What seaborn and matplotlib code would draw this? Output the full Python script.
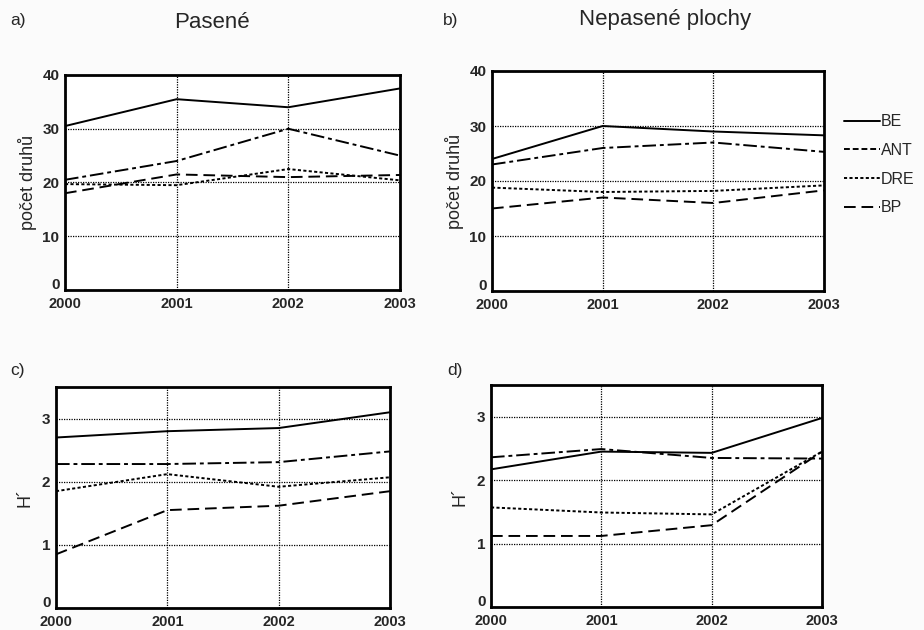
import matplotlib
matplotlib.use("Agg")
import matplotlib.pyplot as plt
import matplotlib.transforms as mtransforms
import seaborn as sns
import pandas as pd
from matplotlib.lines import Line2D

years = [2000, 2001, 2002, 2003]
series = ["BE", "ANT", "DRE", "BP"]

# a) Pasené - počet druhů
a_BE = [30.5, 35.5, 34.0, 37.5]
a_ANT = [20.5, 24.0, 30.0, 25.0]
a_DRE = [19.7, 19.5, 22.5, 20.4]
a_BP = [18.0, 21.5, 21.0, 21.4]

# b) Nepasené plochy - počet druhů
b_BE = [24.0, 30.0, 29.0, 28.3]
b_ANT = [23.0, 26.0, 27.0, 25.3]
b_DRE = [18.8, 18.0, 18.2, 19.2]
b_BP = [15.0, 17.0, 16.0, 18.3]

# c) Pasené - H'
c_BE = [2.70, 2.80, 2.85, 3.10]
c_ANT = [2.28, 2.28, 2.31, 2.48]
c_DRE = [1.85, 2.12, 1.92, 2.07]
c_BP = [0.85, 1.55, 1.62, 1.85]

# d) Nepasené plochy - H'
d_BE = [2.17, 2.45, 2.43, 2.98]
d_ANT = [2.36, 2.49, 2.35, 2.34]
d_DRE = [1.57, 1.49, 1.46, 2.45]
d_BP = [1.12, 1.12, 1.29, 2.45]

panel_letters = ["a)", "b)", "c)", "d)"]
titles = ["Pasené", "Nepasené plochy"]
ylabels = ["počet druhů", "počet druhů", "H´", "H´"]


def long_df(be, ant, dre, bp):
    rows = []
    for name, vals in zip(series, [be, ant, dre, bp]):
        for y, v in zip(years, vals):
            rows.append({"rok": y, "hodnota": v, "serie": name})
    return pd.DataFrame(rows)


dfs = [long_df(a_BE, a_ANT, a_DRE, a_BP), long_df(b_BE, b_ANT, b_DRE, b_BP),
       long_df(c_BE, c_ANT, c_DRE, c_BP), long_df(d_BE, d_ANT, d_DRE, d_BP)]

dash_map = {"BE": "", "ANT": (7, 2, 2, 2), "DRE": (1.6, 1.2), "BP": (6, 3)}

sns.set_theme(style="white")
plt.rcParams["font.family"] = ["Liberation Sans", "DejaVu Sans"]

fig = plt.figure(figsize=(9.24, 6.3), dpi=100)
fig.patch.set_facecolor("#fbfbfb")
W, H = 924, 630


def axbox(l, r, t, b):
    return [l / W, 1 - b / H, (r - l) / W, (b - t) / H]


boxes = [axbox(65, 400, 75, 290), axbox(492, 824, 71, 291),
         axbox(56, 390, 387, 608), axbox(491, 822, 385, 607)]
ylims = [(0, 40), (0, 40), (0, 3.5), (0, 3.5)]
yticks = [[0, 10, 20, 30, 40], [0, 10, 20, 30, 40], [0, 1, 2, 3], [0, 1, 2, 3]]
ylabel_pads = [4, 4, 6, 6]

for i, df in enumerate(dfs):
    ax = fig.add_axes(boxes[i])
    ax.set_facecolor("white")
    sns.lineplot(data=df, x="rok", y="hodnota", style="serie", dashes=dash_map,
                 color="black", linewidth=1.4, ax=ax, legend=False)
    ax.set_xlim(2000, 2003)
    ax.set_ylim(*ylims[i])
    ax.set_xticks(years)
    ax.set_yticks(yticks[i])
    ax.set_xticklabels([str(y) for y in years], fontsize=10.5, fontweight="bold")
    ax.set_yticklabels([str(t) for t in yticks[i]], fontsize=11, fontweight="bold")
    ax.tick_params(axis="y", direction="out", length=3, width=1, color="black", pad=1)
    ax.tick_params(axis="x", direction="out", length=0, width=1, color="black", pad=5)
    ax.grid(True, color="black", linestyle=(0, (1, 1)), linewidth=0.9)
    for s in ax.spines.values():
        s.set_color("black")
        s.set_linewidth(2)
    # lift the "0" label a little so it sits above the first year label
    zero_lbl = ax.get_yticklabels()[0]
    zero_lbl.set_transform(zero_lbl.get_transform() +
                           mtransforms.ScaledTranslation(0, 5 / 72, fig.dpi_scale_trans))
    ax.set_xlabel("")
    ax.set_ylabel(ylabels[i], fontsize=13, labelpad=ylabel_pads[i])

fig.text(10 / W, 1 - 20 / H, "a)", fontsize=12.5, va="center")
fig.text(443 / W, 1 - 20 / H, "b)", fontsize=12.5, va="center")
fig.text(10 / W, 1 - 370 / H, "c)", fontsize=12.5, va="center")
fig.text(447 / W, 1 - 370 / H, "d)", fontsize=12.5, va="center")
fig.text(212 / W, 1 - 22 / H, titles[0], fontsize=16, ha="center", va="center")
fig.text(665 / W, 1 - 20 / H, titles[1], fontsize=16, ha="center", va="center")

handles = [Line2D([], [], color="black", linewidth=1.4,
                  linestyle="-" if dash_map[s] == "" else (0, dash_map[s])) for s in series]
handles[1].set_linestyle((0, (3, 1.5)))
fig.legend(handles, series, loc="upper left", bbox_to_anchor=(838 / W, 1 - 108 / H),
           frameon=False, fontsize=11.5, handlelength=2.2, handletextpad=0.1,
           labelspacing=0.85, borderaxespad=0)

fig.savefig("out.png", dpi=100, facecolor=fig.get_facecolor())
